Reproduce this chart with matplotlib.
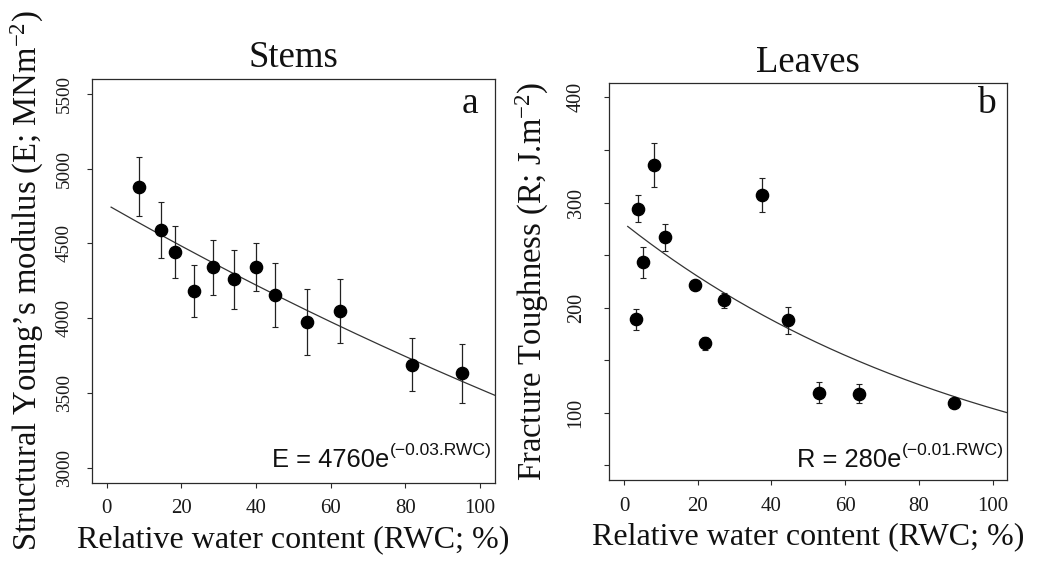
import numpy as np
import matplotlib
matplotlib.use("Agg")
import matplotlib.pyplot as plt
from matplotlib.transforms import offset_copy

plt.rcParams['font.family'] = ['Liberation Serif', 'DejaVu Serif']
plt.rcParams['mathtext.fontset'] = 'custom'
plt.rcParams['mathtext.rm'] = 'Liberation Serif'
plt.rcParams['mathtext.it'] = 'Liberation Serif:italic'
plt.rcParams['mathtext.sf'] = 'Liberation Sans'

# ---- Data: Stems (panel a) ----
stem_rwc = [8.6, 14.5, 18.2, 23.5, 28.5, 34.2, 40.1, 45.2, 53.7, 62.4, 81.8, 95.1]
stem_E = [4878, 4589, 4444, 4182, 4340, 4260, 4344, 4156, 3973, 4049, 3689, 3633]
stem_err = [197, 189, 176, 173, 184, 198, 160, 215, 221, 215, 176, 197]
stem_fit_a = 4760
stem_fit_k = 0.003
stem_eq_main = 'E = 4760e'
stem_eq_sup = '(\u22120.03.RWC)'
stem_yticks = [3000, 3500, 4000, 4500, 5000, 5500]
stem_yticklabels = ['3000', '3500', '4000', '4500', '5000', '5500']

# ---- Data: Leaves (panel b) ----
leaf_rwc = [3.2, 3.8, 5.1, 8.0, 11.1, 19.2, 21.9, 27.2, 37.5, 44.5, 52.9, 63.8, 89.6]
leaf_R = [189, 294, 243, 336, 267, 222, 166, 207, 307, 188, 119, 118, 109]
leaf_err = [10, 13, 15, 21, 13, 3, 6, 7, 16, 13, 10, 9, 3]
leaf_fit_a = 280
leaf_fit_k = 0.0099
leaf_eq_main = 'R = 280e'
leaf_eq_sup = '(\u22120.01.RWC)'
leaf_yticks = [50, 100, 150, 200, 250, 300, 350, 400]
leaf_yticklabels = ['', '100', '', '200', '', '300', '', '400']

xticks = [0, 20, 40, 60, 80, 100]
xticklabels = ['0', '20', '40', '60', '80', '100']

W, H = 1040, 562
fig = plt.figure(figsize=(W / 100, H / 100), dpi=100)

def px_axes(l, t, r, b):
    return fig.add_axes([l / W, 1 - b / H, (r - l) / W, (b - t) / H])

axL = px_axes(91.7, 79, 495, 482.7)
axR = px_axes(609.3, 82.7, 1007.3, 480)

frame_col = '#2a2a2a'
line_col = '#333333'
text_col = '#111111'

def style(ax, yticks, yticklabels, ylim, title, title_pad, ylabel, ylabel_x,
          ysize, ypad, letter, lx, ly):
    ax.set_xlim(-4, 104)
    ax.set_ylim(*ylim)
    ax.set_xticks(xticks)
    ax.set_xticklabels(xticklabels)
    ax.set_yticks(yticks)
    ax.set_yticklabels(yticklabels, rotation=90, va='center')
    ax.tick_params(axis='both', direction='out', length=3.5, width=0.8,
                   color=frame_col, labelcolor='#1a1a1a')
    ax.tick_params(axis='x', labelsize=15, pad=8.5)
    ax.tick_params(axis='y', labelsize=ysize, pad=ypad)
    for s in ax.spines.values():
        s.set_color(frame_col)
        s.set_linewidth(0.9)
    ax.set_title(title, fontsize=26.5, pad=title_pad, color=text_col)
    ax.set_xlabel('Relative water content (RWC; %)', fontsize=23, labelpad=5, color=text_col)
    ax.set_ylabel(ylabel, fontsize=23.5, color=text_col)
    ax.yaxis.set_label_coords(ylabel_x, 0.5)
    ax.text(lx, ly, letter, transform=ax.transAxes, ha='right', va='baseline',
            fontsize=27, color=text_col)

def equation(ax, main, sup, x, y):
    t_sup = ax.text(x, y, sup, ha='right', va='baseline', fontsize=12.6,
                    family='Liberation Sans', color=text_col,
                    transform=offset_copy(ax.transAxes, fig=fig, x=0, y=8.8, units='points'))
    fig.canvas.draw()
    w = t_sup.get_window_extent().width
    ax.text(x, y, main, ha='right', va='baseline', fontsize=18.4,
            family='Liberation Sans', color=text_col,
            transform=offset_copy(ax.transAxes, fig=fig, x=-w - 0.5, y=0, units='dots'))

# Panel a
xs = np.linspace(1.2, 104, 200)
axL.plot(xs, stem_fit_a * np.exp(-stem_fit_k * xs), color=line_col, lw=0.9)
axL.errorbar(stem_rwc, stem_E, yerr=stem_err, fmt='o', color='black', ms=8.8,
             ecolor='#222222', elinewidth=0.9, capsize=2.5, capthick=0.8)
style(axL, stem_yticks, stem_yticklabels, (2900, 5600), 'Stems', 8.5,
      'Structural Young’s modulus (E; MNm$^{-2}$)', -0.113, 13.8, 10, 'a', 0.958, 0.916)

# Panel b
xs2 = np.linspace(1.0, 104, 200)
axR.plot(xs2, leaf_fit_a * np.exp(-leaf_fit_k * xs2), color=line_col, lw=0.9)
axR.errorbar(leaf_rwc, leaf_R, yerr=leaf_err, fmt='o', color='black', ms=8.8,
             ecolor='#222222', elinewidth=0.9, capsize=2.5, capthick=0.8)
style(axR, leaf_yticks, leaf_yticklabels, (36, 414), 'Leaves', 7.5,
      'Fracture Toughness (R; J.m$^{-2}$)', -0.1465, 14.5, 13.5, 'b', 0.9716, 0.924)

equation(axL, stem_eq_main, stem_eq_sup, 0.9926, 0.039)
equation(axR, leaf_eq_main, leaf_eq_sup, 0.9917, 0.033)

fig.savefig('out.png', dpi=100)
